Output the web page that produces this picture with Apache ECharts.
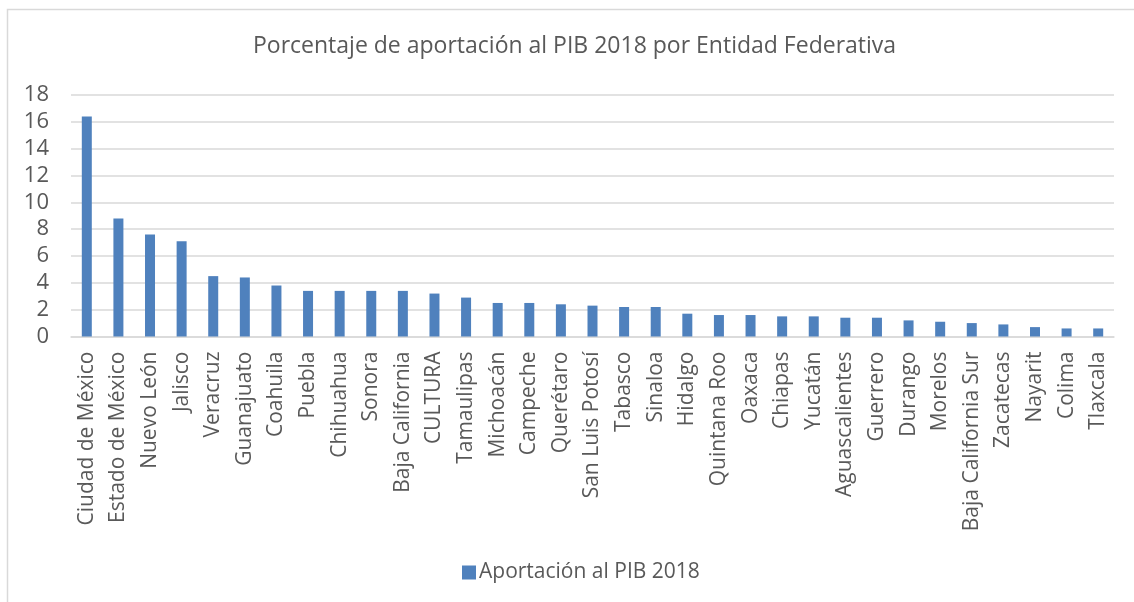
<!DOCTYPE html>
<html>
<head>
<meta charset="utf-8">
<script src="https://cdn.jsdelivr.net/npm/echarts@6/dist/echarts.min.js"></script>
<style>
  html, body { margin: 0; padding: 0; background: #ffffff; }
  #chart { width: 1134px; height: 602px; }
</style>
</head>
<body>
<div id="chart"></div>
<script>
// Participación porcentual de cada entidad en el PIB nacional, 2018
const entidades = [
  'Ciudad de México', 'Estado de México', 'Nuevo León', 'Jalisco', 'Veracruz',
  'Guanajuato', 'Coahuila', 'Puebla', 'Chihuahua', 'Sonora', 'Baja California',
  'CULTURA', 'Tamaulipas', 'Michoacán', 'Campeche', 'Querétaro', 'San Luis Potosí',
  'Tabasco', 'Sinaloa', 'Hidalgo', 'Quintana Roo', 'Oaxaca', 'Chiapas', 'Yucatán',
  'Aguascalientes', 'Guerrero', 'Durango', 'Morelos', 'Baja California Sur',
  'Zacatecas', 'Nayarit', 'Colima', 'Tlaxcala'
];
const aportacion = [
  16.4, 8.8, 7.6, 7.1, 4.5,
  4.4, 3.8, 3.4, 3.4, 3.4, 3.4,
  3.2, 2.9, 2.5, 2.5, 2.4, 2.3,
  2.2, 2.2, 1.7, 1.6, 1.6, 1.5, 1.5,
  1.4, 1.4, 1.2, 1.1, 1.0,
  0.9, 0.7, 0.6, 0.6
];
const titulo = 'Porcentaje de aportación al PIB 2018 por Entidad Federativa';
const nombreSerie = 'Aportación al PIB 2018';

const FONT = "'Open Sans', 'Noto Sans', sans-serif";
const TEXT = '#595959';
const GRID = '#d9d9d9';

const chart = echarts.init(document.getElementById('chart'), null, { renderer: 'canvas' });
chart.setOption({
  animation: false,
  backgroundColor: '#ffffff',
  textStyle: { fontFamily: FONT },
  graphic: [{
    type: 'rect',
    silent: true,
    shape: { x: 7.5, y: 9.5, width: 1200, height: 700 },
    style: { fill: 'none', stroke: GRID, lineWidth: 1.5 }
  }],
  title: {
    text: titulo,
    left: 248,
    top: 30,
    textStyle: { fontFamily: FONT, fontSize: 23, fontWeight: 'normal', color: TEXT }
  },
  legend: {
    bottom: 14,
    left: 457,
    icon: 'rect',
    itemWidth: 14,
    itemHeight: 14,
    itemGap: 6,
    textStyle: { fontFamily: FONT, fontSize: 21, color: TEXT, padding: [0, 0, 0, -2] },
    data: [nombreSerie]
  },
  grid: { left: 71, right: 20, top: 95, bottom: 265.5, containLabel: false },
  xAxis: {
    type: 'category',
    data: entidades,
    axisLine: { lineStyle: { color: GRID, width: 1.5 } },
    axisTick: { show: false },
    axisLabel: {
      interval: 0,
      rotate: 90,
      margin: 15,
      fontFamily: FONT,
      fontSize: 21,
      color: TEXT
    }
  },
  yAxis: {
    type: 'value',
    min: 0,
    max: 18,
    interval: 2,
    axisLine: { show: false },
    axisTick: { show: false },
    splitLine: { lineStyle: { color: GRID, width: 1.5 } },
    axisLabel: { margin: 22, fontFamily: FONT, fontSize: 22, color: TEXT }
  },
  series: [{
    name: nombreSerie,
    type: 'bar',
    data: aportacion,
    barWidth: 10,
    itemStyle: { color: '#4f81bd' }
  }]
});
</script>
</body>
</html>
